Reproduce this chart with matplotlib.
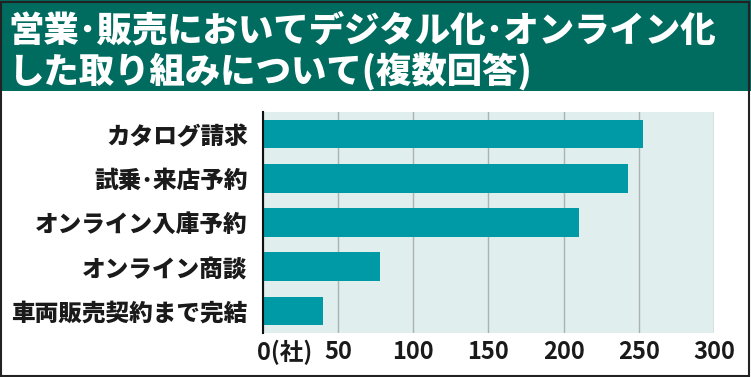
import matplotlib
matplotlib.use("Agg")
import matplotlib.pyplot as plt
import matplotlib.transforms as mtransforms
from matplotlib.patches import Rectangle

categories = ["カタログ請求", "試乗･来店予約", "オンライン入庫予約", "オンライン商談", "車両販売契約まで完結"]
values = [253, 243, 210, 78, 40]
xticks = [0, 50, 100, 150, 200, 250, 300]
xticklabels = ["0(社)", "50", "100", "150", "200", "250", "300"]
title_lines = ["営業･販売においてデジタル化･オンライン化", "した取り組みについて(複数回答)"]

W, H = 751, 377
fig = plt.figure(figsize=(W / 100, H / 100), dpi=100)
fig.patch.set_facecolor("white")

# banner
fig.patches.append(Rectangle((0, 1 - 91 / H), 1, 91 / H, transform=fig.transFigure,
                             facecolor="#006b5f", edgecolor="none", zorder=0))
for i, line in enumerate(title_lines):
    fig.text(8 / W, 1 - (31 + 40 * i) / H, line, color="white", fontsize=25.5, fontweight=900,
             family=["Noto Sans CJK JP", "DejaVu Sans"], va="center", ha="left")

# border
fig.patches.append(Rectangle((1 / W, 1.5 / H), (W - 3) / W, (H - 3) / H, transform=fig.transFigure,
                             facecolor="none", edgecolor="#222222", linewidth=1.5, zorder=10))

ax = fig.add_axes([263 / W, (H - 333) / H, 451 / W, 221 / H])
ax.set_facecolor("#e1eeee")
ypos = list(range(len(categories)))
ax.barh(ypos, values, height=0.65, color="#009aa7", zorder=3)
ax.set_xlim(0, 300)
ax.set_ylim(len(categories) - 0.5, -0.5)
ax.set_yticks(ypos)
ax.set_yticklabels(categories, family=["Noto Sans CJK JP", "DejaVu Sans"], fontsize=17,
                   fontweight=900, color="#1a1a1a")
ax.set_xticks(xticks)
ax.set_xticklabels(xticklabels, family=["Noto Sans CJK JP", "DejaVu Sans"], fontsize=17,
                   fontweight="bold", color="#1a1a1a")
ax.tick_params(axis="y", length=0, pad=11)
ax.tick_params(axis="x", length=0, pad=5)
ax.grid(axis="x", color="#a9b3b3", linewidth=1, zorder=1)
for s in ["top", "right", "bottom"]:
    ax.spines[s].set_visible(False)
ax.spines["left"].set_color("#111111")
ax.spines["left"].set_linewidth(1.5)
ax.spines["left"].set_zorder(4)

lbl0 = ax.get_xticklabels()[0]
lbl0.set_ha("left")
lbl0.set_transform(lbl0.get_transform() + mtransforms.ScaledTranslation(-6 / 100, 0, fig.dpi_scale_trans))

fig.savefig("out.png", dpi=100, facecolor="white")
